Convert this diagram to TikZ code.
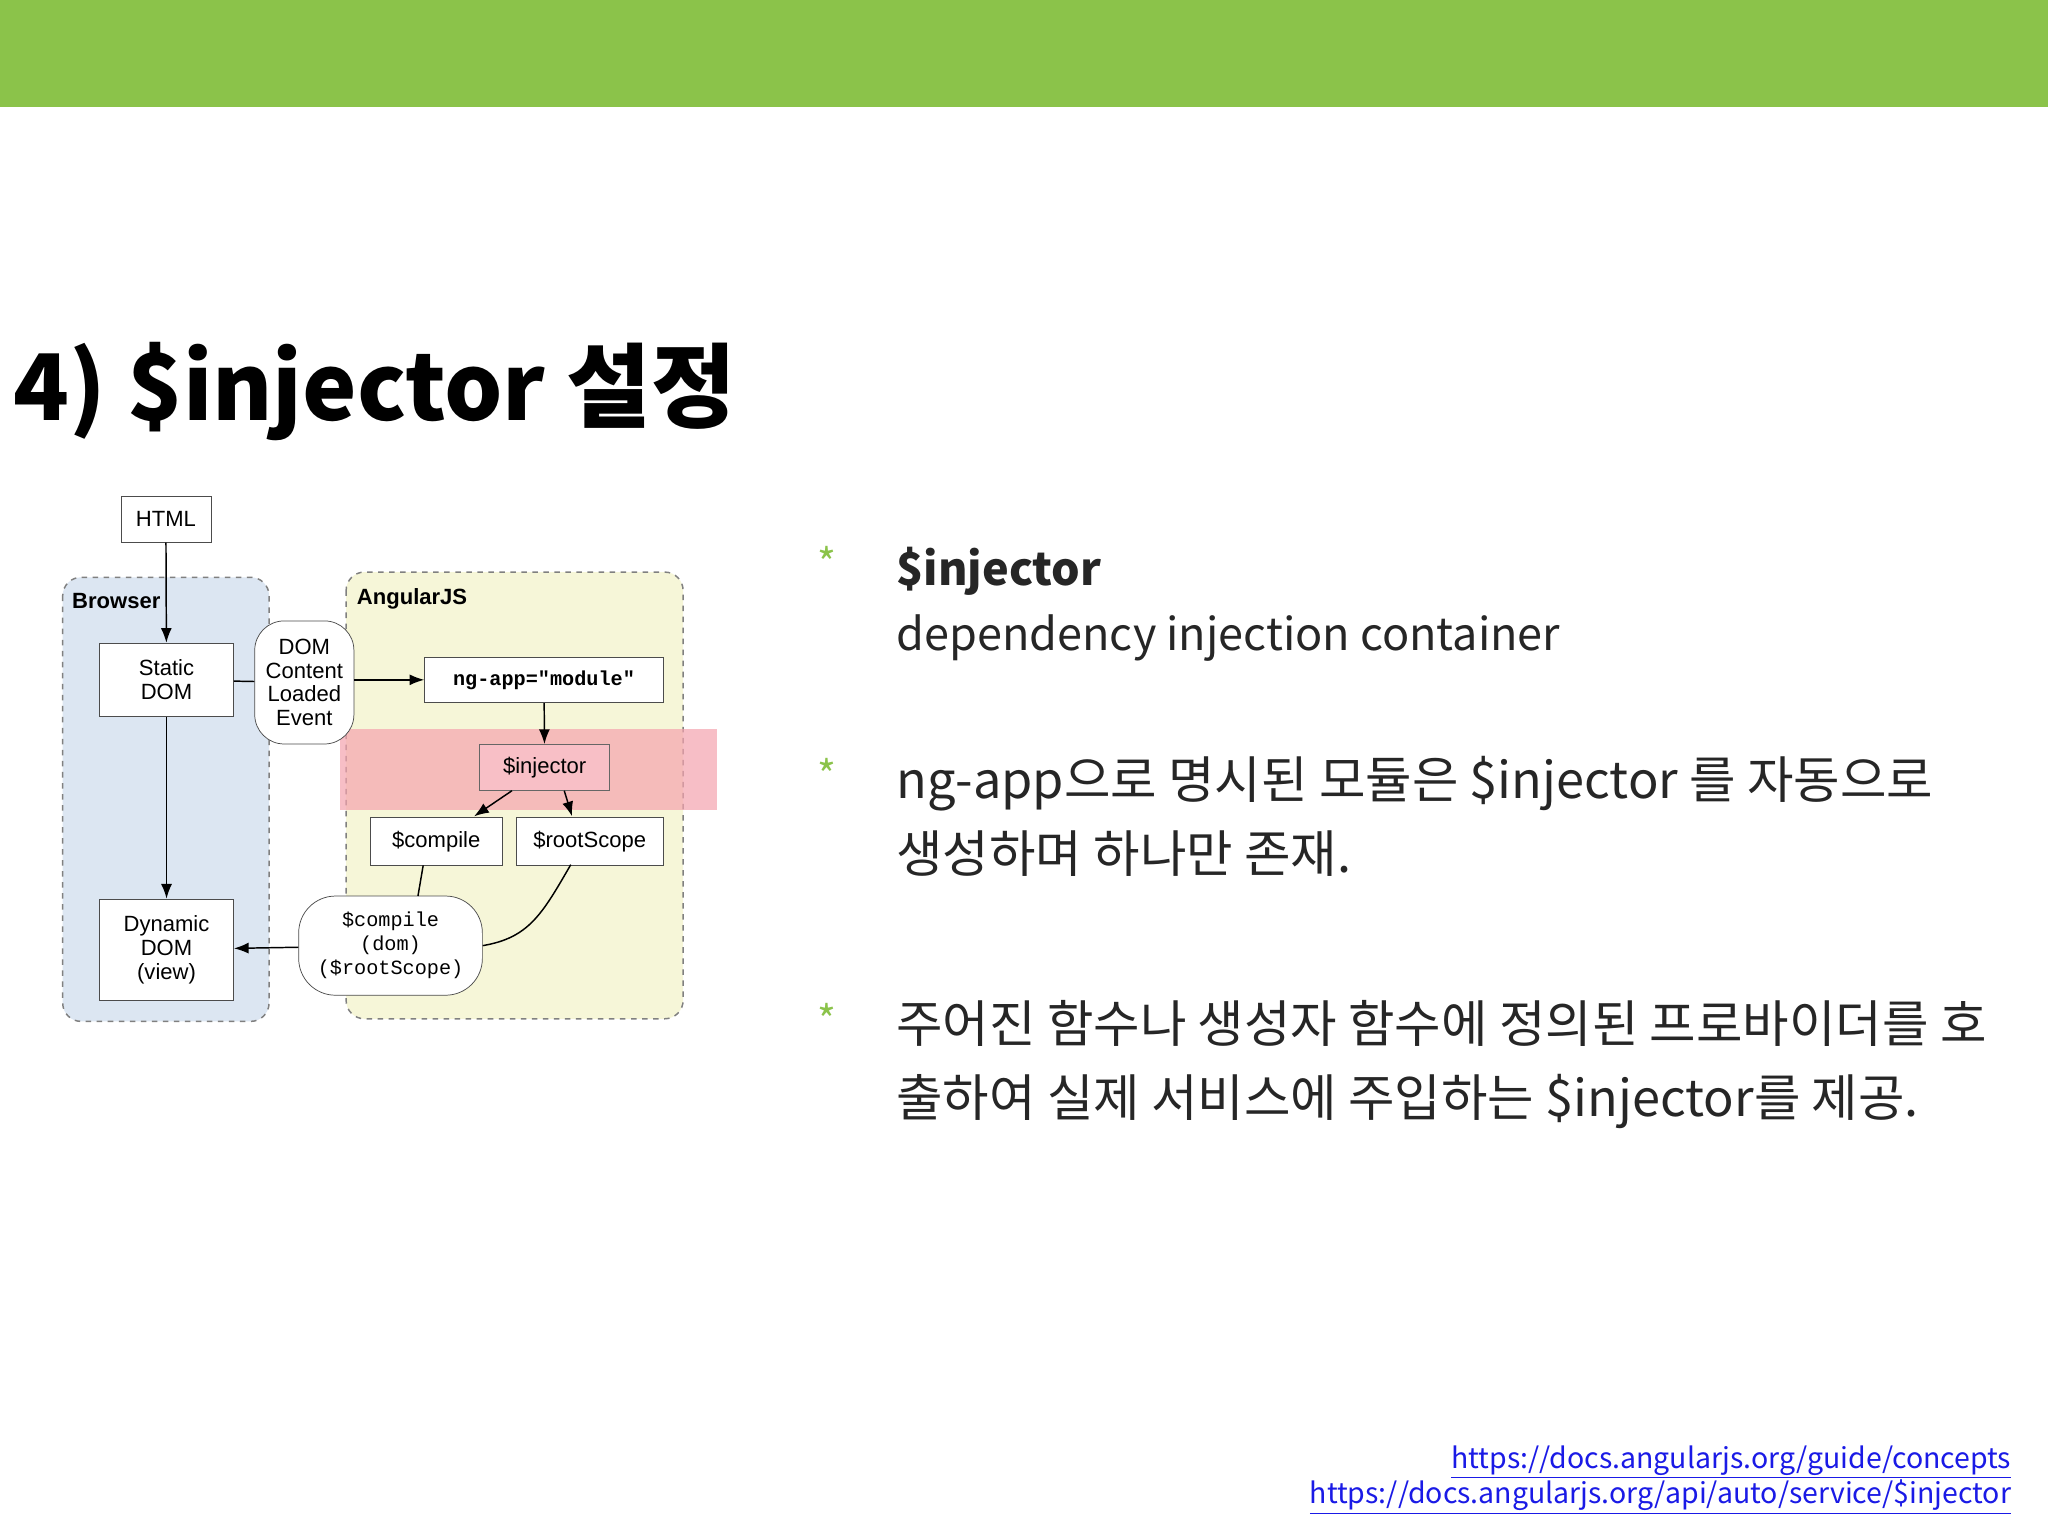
\documentclass[tikz,border=0pt]{standalone}
\usepackage{fontspec}
\setmainfont{Liberation Sans}
\newfontfamily\kr{Noto Sans CJK KR}
\newfontfamily\mono{Liberation Mono}
\usetikzlibrary{arrows.meta}
\definecolor{topgreen}{HTML}{8BC34A}
\definecolor{bluebg}{HTML}{DCE6F2}
\definecolor{yelbg}{HTML}{F6F6D8}
\definecolor{pinkb}{HTML}{F5A3AE}
\definecolor{linkblue}{HTML}{1A1AE6}
\begin{document}
\begin{tikzpicture}[x=0.025cm,y=-0.025cm,
  box/.style={draw=black!70,fill=white,align=center,font=\fontsize{12}{13}\selectfont,inner sep=1pt},
  arr/.style={-{Latex[length=8pt,width=6pt]},black,line width=0.8pt},
  ln/.style={black,line width=0.8pt},
  region/.style={draw=black!50,dashed,rounded corners=10pt,line width=0.8pt},
  body/.style={anchor=base west,inner sep=0,font=\kr\fontsize{24.5}{30}\selectfont,text=black!85},
  krbody/.style={body,font=\kr\fontsize{27.5}{30}\selectfont},
  star/.style={anchor=base,font=\kr\fontsize{22}{22}\selectfont,text=topgreen}]
\useasboundingbox (0,0) rectangle (1568,1176);
\fill[white] (0,0) rectangle (1568,1176);
\fill[topgreen] (0,0) rectangle (1568,82);
\node[anchor=base west,inner sep=0,font=\kr\bfseries\fontsize{50}{54}\selectfont] (title) at (10,322) {4) \$injector 설정};
% regions
\draw[region,fill=bluebg] (48,442) rectangle (206,782);
\draw[region,fill=yelbg] (265,438) rectangle (523,780);
\node[anchor=base west,font=\bfseries\fontsize{12}{13}\selectfont,inner sep=0] (brl) at (55,466) {Browser};
\node[anchor=base west,font=\bfseries\fontsize{12}{13}\selectfont,inner sep=0] (agl) at (273,463) {AngularJS};
\fill[pinkb,opacity=0.7] (260,558) rectangle (549,620);
% nodes
\node[box,minimum width=49pt,minimum height=25pt] (html) at (127,397.5) {HTML};
\node[box,minimum width=73pt,minimum height=40pt] (static) at (127.5,520.5) {Static\\DOM};
\node[box,rounded corners=16pt,minimum width=54pt,minimum height=67pt,inner sep=0pt] (dcl) at (233,522.5) {DOM\\Content\\Loaded\\Event};
\node[box,minimum width=130pt,minimum height=25pt,font=\mono\bfseries\fontsize{11}{12}\selectfont] (ngapp) at (416.5,520.5) {ng-app="module"};
\node[box,fill=pinkb!70,draw=black!60,minimum width=71pt,minimum height=25pt] (inj) at (417,587.5) {\$injector};
\node[box,minimum width=72pt,minimum height=26pt] (comp) at (334,644) {\$compile};
\node[box,minimum width=80pt,minimum height=26pt] (root) at (451.5,644) {\$rootScope};
\node[box,rounded corners=20pt,minimum width=100pt,minimum height=54pt,font=\mono\fontsize{11}{13}\selectfont] (cdom) at (299,724) {\$compile\\(dom)\\(\$rootScope)};
\node[box,minimum width=73pt,minimum height=55pt] (dyn) at (127.5,727) {Dynamic\\DOM\\(view)};
% connectors
\draw[arr] (html) -- (static);
\draw[arr] (static) -- (dyn);
\draw[ln] (static) -- (dcl);
\draw[arr] (dcl.east |- ngapp) -- (ngapp);
\draw[arr] (ngapp) -- (inj);
\draw[arr] (inj.south) ++(-25,0) -- (363,625);
\draw[arr] (inj.south) ++(15,0) -- (438,625);
\draw[ln] (comp.south) ++(-10,0) -- (320,686);
\draw[ln] (437,662) .. controls (415,700) and (405,718) .. (cdom.east);
\draw[arr] (cdom) -- (dyn);
% right text
\node[star] (s1) at (633,443) {*};
\node[body,font=\kr\bfseries\fontsize{24.5}{30}\selectfont] (t1) at (686,448) {\$injector};
\node[body] (t2) at (686,498) {dependency injection container};
\node[star] (s2) at (633,605) {*};
\node[krbody] (t3) at (686,611) {ng-app으로 명시된 모듈은 \$injector 를 자동으로};
\node[krbody] (t4) at (686,668) {생성하며 하나만 존재.};
\node[star] (s3) at (633,793) {*};
\node[krbody] (t5) at (686,798) {주어진 함수나 생성자 함수에 정의된 프로바이더를 호};
\node[krbody] (t6) at (686,855) {출하여 실제 서비스에 주입하는 \$injector를 제공.};
\node[anchor=base east,inner sep=0,font=\kr\fontsize{15.5}{18}\selectfont,text=linkblue] (l1) at (1540,1124) {\underline{https://docs.angularjs.org/guide/concepts}};
\node[anchor=base east,inner sep=0,font=\kr\fontsize{15.5}{18}\selectfont,text=linkblue] (l2) at (1540,1151) {\underline{https://docs.angularjs.org/api/auto/service/\$injector}};
\end{tikzpicture}
\end{document}
